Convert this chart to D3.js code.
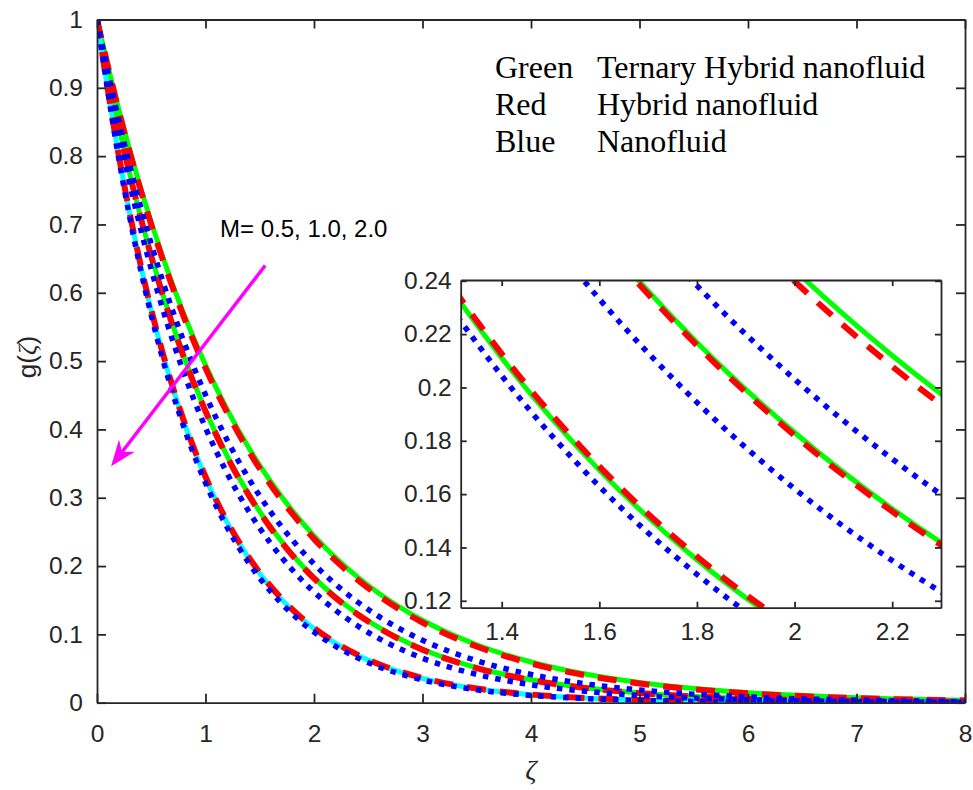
<!DOCTYPE html>
<html>
<head>
<meta charset="utf-8">
<script src="https://cdn.jsdelivr.net/npm/d3@7"></script>
<style>
  body { margin: 0; background: #fff; }
  svg { display: block; }
</style>
</head>
<body>
<svg id="chart" width="973" height="790"></svg>
<script>
// ---- data ----
const zeta = [0, 0.2, 0.4, 0.6, 0.8, 1.0, 1.2, 1.4, 1.6, 1.8, 2.0, 2.2, 2.4, 2.6, 3.0, 3.5, 4.0, 4.5, 5.0, 6.0, 7.0, 8.0];

// M = 0.5
const ternaryM05 = [1, 0.8685, 0.7543, 0.6551, 0.5689, 0.4941, 0.4291, 0.3727, 0.3237, 0.2811, 0.2441, 0.2120, 0.1842, 0.1599, 0.1206, 0.0848, 0.0596, 0.0419, 0.0295, 0.0146, 0.0072, 0.0036];
const hybridM05  = [1, 0.8669, 0.7516, 0.6515, 0.5648, 0.4897, 0.4245, 0.3680, 0.3190, 0.2766, 0.2398, 0.2079, 0.1802, 0.1562, 0.1174, 0.0822, 0.0575, 0.0402, 0.0282, 0.0138, 0.0067, 0.0033];
const nanoM05    = [1, 0.8527, 0.7270, 0.6199, 0.5286, 0.4507, 0.3843, 0.3276, 0.2794, 0.2382, 0.2031, 0.1732, 0.1476, 0.1259, 0.0915, 0.0614, 0.0413, 0.0277, 0.0186, 0.0084, 0.0038, 0.0017];
// M = 1.0
const ternaryM10 = [1, 0.8438, 0.7121, 0.6009, 0.5070, 0.4278, 0.3610, 0.3046, 0.2571, 0.2169, 0.1831, 0.1545, 0.1303, 0.1100, 0.0783, 0.0512, 0.0335, 0.0219, 0.0143, 0.0061, 0.0026, 0.0011];
const hybridM10  = [1, 0.8433, 0.7112, 0.5998, 0.5058, 0.4266, 0.3597, 0.3034, 0.2559, 0.2158, 0.1820, 0.1535, 0.1294, 0.1091, 0.0776, 0.0507, 0.0331, 0.0216, 0.0141, 0.0060, 0.0026, 0.0011];
const nanoM10    = [1, 0.8336, 0.6949, 0.5793, 0.4829, 0.4025, 0.3355, 0.2797, 0.2332, 0.1944, 0.1620, 0.1351, 0.1126, 0.0939, 0.0652, 0.0414, 0.0263, 0.0167, 0.0106, 0.0043, 0.0017, 0.0007];
// M = 2.0
const ternaryM20 = [1, 0.8008, 0.6412, 0.5134, 0.4111, 0.3292, 0.2636, 0.2111, 0.1690, 0.1354, 0.1084, 0.0868, 0.0695, 0.0557, 0.0357, 0.0205, 0.0117, 0.0067, 0.0039, 0.0013, 0.0004, 0.0001];
const hybridM20  = [1, 0.8016, 0.6425, 0.5150, 0.4128, 0.3309, 0.2652, 0.2126, 0.1704, 0.1366, 0.1095, 0.0877, 0.0703, 0.0564, 0.0362, 0.0208, 0.0120, 0.0069, 0.0040, 0.0013, 0.0004, 0.0001];
const nanoM20    = [1, 0.7971, 0.6353, 0.5064, 0.4036, 0.3217, 0.2565, 0.2044, 0.1629, 0.1299, 0.1035, 0.0825, 0.0658, 0.0524, 0.0333, 0.0189, 0.0107, 0.0061, 0.0034, 0.0011, 0.0004, 0.0001];

const mainXTicks = [0, 1, 2, 3, 4, 5, 6, 7, 8];
const mainYTicks = [0, 0.1, 0.2, 0.3, 0.4, 0.5, 0.6, 0.7, 0.8, 0.9, 1];
const insetXTicks = [1.4, 1.6, 1.8, 2, 2.2];
const insetYTicks = [0.12, 0.14, 0.16, 0.18, 0.2, 0.22, 0.24];

const legendRows = [["Green", "Ternary Hybrid nanofluid"], ["Red", "Hybrid nanofluid"], ["Blue", "Nanofluid"]];
const mLabel = "M= 0.5, 1.0, 2.0";
const arrowFrom = [1.55, 0.640];
const arrowTo = [0.13, 0.346];

// ---- styles ----
const ink = "#262626";
const sans = "'Liberation Sans', Arial, sans-serif";
const serif = "'Liberation Serif', 'Times New Roman', serif";
const solid = { dash: null, width: 5 };
const dashed = { dash: "19,14", width: 6 };
const dotted = { dash: "5.5,7", width: 5.5 };

// drawing order: solids, then dashed, then dotted on top
const series = [
  { v: ternaryM05, color: "#00ff00", ...solid },
  { v: ternaryM10, color: "#00ff00", ...solid },
  { v: ternaryM20, color: "#00ffff", insetColor: "#00ff00", ...solid },
  { v: hybridM05, color: "#ff0000", ...dashed },
  { v: hybridM10, color: "#ff0000", ...dashed },
  { v: hybridM20, color: "#ff0000", ...dashed },
  { v: nanoM05, color: "#0000ff", ...dotted },
  { v: nanoM10, color: "#0000ff", ...dotted },
  { v: nanoM20, color: "#0000ff", ...dotted }
];

const svg = d3.select("#chart");
svg.append("rect").attr("width", 973).attr("height", 790).attr("fill", "#fff");

function panel(id, x, y, xTicks, yTicks, tickLen, xPad, yPad, inset) {
  const g = svg.append("g").attr("id", id);
  const [x0, x1] = x.range(), [y0, y1] = y.range();
  if (inset) {
    g.append("rect").attr("x", x0).attr("y", y1).attr("width", x1 - x0).attr("height", y0 - y1).attr("fill", "#fff");
  }
  g.append("clipPath").attr("id", id + "-clip")
    .append("rect").attr("x", x0).attr("y", y1).attr("width", x1 - x0).attr("height", y0 - y1);

  const line = d3.line()
    .x((d, i) => x(zeta[i]))
    .y(d => y(d))
    .curve(d3.curveMonotoneX);

  g.append("g").attr("clip-path", `url(#${id}-clip)`)
    .selectAll("path")
    .data(series)
    .join("path")
    .attr("d", d => line(d.v))
    .attr("fill", "none")
    .attr("stroke", d => inset && d.insetColor ? d.insetColor : d.color)
    .attr("stroke-width", d => d.width)
    .attr("stroke-dasharray", d => d.dash)
    .attr("stroke-linecap", "butt");

  const fmt = d3.format("~g");
  const axes = [
    [d3.axisBottom(x).tickValues(xTicks).tickFormat(fmt).tickPadding(xPad), `translate(0,${y0})`],
    [d3.axisTop(x).tickValues(xTicks).tickFormat(""), `translate(0,${y1})`],
    [d3.axisLeft(y).tickValues(yTicks).tickFormat(fmt).tickPadding(yPad), `translate(${x0},0)`],
    [d3.axisRight(y).tickValues(yTicks).tickFormat(""), `translate(${x1},0)`]
  ];
  axes.forEach(([ax, tr]) => {
    const a = g.append("g").attr("transform", tr)
      .call(ax.tickSizeInner(-tickLen).tickSizeOuter(0));
    a.select(".domain").attr("stroke", ink).attr("stroke-width", 1.8);
    a.selectAll(".tick line").attr("stroke", ink).attr("stroke-width", 1.8);
    a.selectAll(".tick text").attr("fill", ink).attr("font-family", sans).attr("font-size", 24.5);
  });
  return g;
}

// main axes
const x = d3.scaleLinear().domain([0, 8]).range([97, 965]);
const y = d3.scaleLinear().domain([0, 1]).range([702.7, 19.5]);
panel("main", x, y, mainXTicks, mainYTicks, 9, 22, 14, false);

// axis titles
svg.append("text")
  .attr("x", 531).attr("y", 779)
  .attr("text-anchor", "middle")
  .attr("font-family", serif).attr("font-style", "italic").attr("font-size", 28)
  .attr("fill", ink).text("ζ");

const yl = svg.append("text")
  .attr("transform", "translate(36,357) rotate(-90)")
  .attr("text-anchor", "middle")
  .attr("font-family", sans).attr("font-size", 26).attr("fill", ink);
yl.append("tspan").text("g(");
yl.append("tspan").attr("font-family", serif).attr("font-style", "italic").text("ζ");
yl.append("tspan").text(")");

// legend text block
const leg = svg.append("g").attr("font-family", serif).attr("font-size", 32).attr("fill", "#000");
legendRows.forEach((r, i) => {
  leg.append("text").attr("x", 495).attr("y", 78 + i * 37).text(r[0]);
  leg.append("text").attr("x", 597).attr("y", 78 + i * 37).text(r[1]);
});

// M annotation and arrow
svg.append("text")
  .attr("x", 220).attr("y", 237)
  .attr("font-family", sans).attr("font-size", 24).attr("fill", "#000")
  .text(mLabel);

const ax0 = x(arrowFrom[0]), ay0 = y(arrowFrom[1]);
const ax1 = x(arrowTo[0]), ay1 = y(arrowTo[1]);
const len = Math.hypot(ax1 - ax0, ay1 - ay0);
const ux = (ax1 - ax0) / len, uy = (ay1 - ay0) / len;
const nx = -uy, ny = ux;
const headL = 26, headW = 10, notch = 18;
svg.append("line")
  .attr("x1", ax0).attr("y1", ay0)
  .attr("x2", ax1 - ux * notch).attr("y2", ay1 - uy * notch)
  .attr("stroke", "#ff00ff").attr("stroke-width", 3.5);
svg.append("path")
  .attr("d", `M${ax1},${ay1}L${ax1 - ux * headL + nx * headW},${ay1 - uy * headL + ny * headW}` +
    `L${ax1 - ux * notch},${ay1 - uy * notch}L${ax1 - ux * headL - nx * headW},${ay1 - uy * headL - ny * headW}Z`)
  .attr("fill", "#ff00ff");

// inset axes
const xi = d3.scaleLinear().domain([1.316, 2.3]).range([460.7, 941]);
const yi = d3.scaleLinear().domain([0.1174, 0.2403]).range([607.7, 280]);
panel("inset", xi, yi, insetXTicks, insetYTicks, 6, 15, 9, true);
</script>
</body>
</html>
